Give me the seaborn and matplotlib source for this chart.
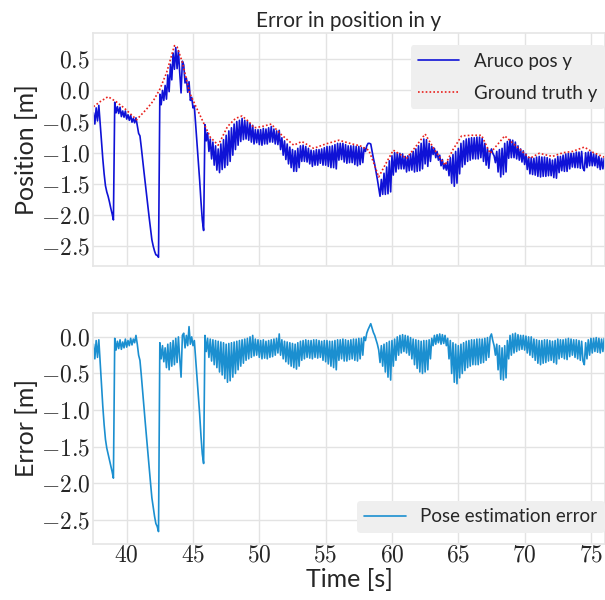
import numpy as np
import pandas as pd
import matplotlib
matplotlib.use("Agg")
import matplotlib.pyplot as plt
from matplotlib.ticker import MultipleLocator, FuncFormatter
import seaborn as sns

# ---- data, samples every 0.1 s from 37.5 s ----
t_start, t_step = 37.5, 0.1

pose_error = [
    -0.10, -0.30, -0.05, -0.28, -0.04, -0.35, -0.65, -0.95, -1.20, -1.40,
    -1.52, -1.60, -1.68, -1.76, -1.84, -1.93, -0.02, -0.18, -0.06, -0.16,
    -0.04, -0.17, -0.07, -0.15, -0.03, -0.14, -0.05, -0.12, -0.02, -0.11,
    -0.03, -0.08, 0.02, -0.10, -0.25, -0.32, -0.52, -0.74, -0.95, -1.17,
    -1.38, -1.59, -1.80, -2.00, -2.20, -2.33, -2.45, -2.55, -2.59, -2.66,
    -0.08, -0.30, -0.12, -0.34, -0.15, -0.42, -0.10, -0.45, -0.08, -0.40,
    -0.05, -0.38, -0.02, -0.35, 0.00, -0.30, -0.55, 0.02, 0.05, -0.15,
    0.02, -0.12, 0.14, -0.10, 0.00, -0.12, -0.05, -0.30, -0.55, -0.80,
    -1.05, -1.35, -1.60, -1.73, 0.02, -0.20, -0.02, -0.28, -0.03, -0.33,
    -0.04, -0.38, -0.05, -0.42, -0.06, -0.48, -0.07, -0.52, -0.08, -0.57,
    -0.10, -0.62, -0.09, -0.60, -0.08, -0.55, -0.07, -0.50, -0.06, -0.45,
    -0.05, -0.40, -0.04, -0.36, -0.03, -0.32, -0.02, -0.30, 0.00, -0.28,
    0.02, -0.26, -0.03, -0.25, -0.04, -0.28, -0.05, -0.30, -0.04, -0.29,
    -0.06, -0.30, -0.05, -0.28, -0.04, -0.27, -0.03, -0.25, -0.02, -0.22,
    0.04, -0.25, -0.04, -0.30, -0.06, -0.34, -0.07, -0.37, -0.08, -0.40,
    -0.09, -0.42, -0.10, -0.44, -0.08, -0.40, -0.06, -0.32, -0.05, -0.30,
    -0.04, -0.28, -0.05, -0.29, -0.05, -0.30, -0.04, -0.28, -0.04, -0.29,
    -0.05, -0.28, -0.06, -0.32, -0.05, -0.34, -0.05, -0.37, -0.06, -0.40,
    -0.06, -0.42, -0.05, -0.45, -0.04, -0.32, -0.04, -0.30, -0.03, -0.33,
    -0.04, -0.33, -0.05, -0.31, -0.04, -0.30, -0.03, -0.32, -0.03, -0.33,
    -0.02, -0.30, -0.02, -0.25, 0.00, -0.05, 0.05, 0.10, 0.14, 0.18,
    0.12, 0.06, 0.02, -0.04, -0.10, -0.18, -0.35, -0.12, -0.40, -0.10,
    -0.48, -0.08, -0.55, -0.06, -0.59, -0.05, -0.40, -0.03, -0.32, 0.00,
    -0.25, 0.02, -0.22, 0.03, -0.20, 0.02, -0.22, 0.01, -0.25, -0.01,
    -0.30, -0.03, -0.38, -0.04, -0.43, -0.05, -0.48, -0.06, -0.50, -0.05,
    -0.48, -0.05, -0.45, -0.04, -0.30, -0.02, -0.12, 0.02, -0.10, 0.03,
    -0.08, 0.04, -0.10, 0.03, -0.09, 0.02, -0.12, -0.02, -0.30, -0.05,
    -0.50, -0.08, -0.62, -0.10, -0.64, -0.12, -0.56, -0.10, -0.50, -0.08,
    -0.46, -0.06, -0.42, -0.05, -0.40, -0.04, -0.38, -0.04, -0.38, -0.03,
    -0.38, -0.03, -0.36, -0.03, -0.35, -0.02, -0.32, -0.01, -0.28, 0.00,
    0.04, -0.05, -0.12, -0.25, -0.10, -0.45, -0.12, -0.58, -0.15, -0.59,
    -0.12, -0.56, -0.05, -0.30, 0.02, -0.25, 0.04, -0.22, 0.05, -0.20,
    0.03, -0.18, 0.02, -0.17, 0.02, -0.18, 0.01, -0.22, 0.00, -0.25,
    0.00, -0.28, -0.03, -0.32, -0.04, -0.36, -0.05, -0.38, -0.05, -0.36,
    -0.04, -0.35, -0.04, -0.33, -0.05, -0.32, -0.06, -0.35, -0.05, -0.37,
    -0.03, -0.30, -0.04, -0.28, -0.04, -0.30, -0.03, -0.31, -0.02, -0.27,
    -0.03, -0.25, -0.04, -0.28, -0.04, -0.30, -0.05, -0.32, -0.06, -0.33,
    -0.38, -0.08, -0.30, -0.04, -0.25, -0.02, -0.22, -0.02, -0.20, -0.01,
    -0.21, -0.02, -0.22, -0.03, -0.20, -0.02, -0.18,
]

aruco_pos_y = [
    -0.36, -0.54, -0.28, -0.49, -0.24, -0.53, -0.82, -1.10, -1.34, -1.53,
    -1.63, -1.70, -1.79, -1.89, -1.98, -2.08, -0.19, -0.36, -0.26, -0.37,
    -0.27, -0.42, -0.33, -0.43, -0.33, -0.46, -0.39, -0.48, -0.40, -0.51,
    -0.45, -0.52, -0.44, -0.56, -0.69, -0.73, -0.91, -1.11, -1.30, -1.49,
    -1.68, -1.86, -2.05, -2.22, -2.40, -2.50, -2.58, -2.64, -2.65, -2.68,
    -0.06, -0.23, 0.00, -0.16, 0.08, -0.14, 0.25, -0.02, 0.42, 0.17,
    0.60, 0.34, 0.69, 0.35, 0.64, 0.28, -0.04, 0.47, 0.41, 0.12,
    0.20, -0.03, 0.14, -0.16, -0.11, -0.28, -0.25, -0.55, -0.85, -1.14,
    -1.44, -1.78, -2.08, -2.25, -0.55, -0.81, -0.68, -0.98, -0.78, -1.10,
    -0.83, -1.20, -0.89, -1.28, -0.94, -1.32, -0.86, -1.27, -0.79, -1.24,
    -0.72, -1.20, -0.65, -1.14, -0.60, -1.04, -0.54, -0.95, -0.50, -0.88,
    -0.48, -0.82, -0.45, -0.79, -0.48, -0.78, -0.50, -0.80, -0.53, -0.83,
    -0.56, -0.86, -0.63, -0.84, -0.63, -0.87, -0.63, -0.88, -0.61, -0.86,
    -0.62, -0.86, -0.60, -0.83, -0.58, -0.83, -0.62, -0.86, -0.65, -0.87,
    -0.64, -0.95, -0.76, -1.04, -0.81, -1.11, -0.86, -1.18, -0.91, -1.24,
    -0.95, -1.30, -0.97, -1.30, -0.93, -1.24, -0.89, -1.14, -0.88, -1.14,
    -0.90, -1.15, -0.93, -1.18, -0.96, -1.22, -0.97, -1.20, -0.95, -1.20,
    -0.95, -1.17, -0.94, -1.20, -0.92, -1.20, -0.90, -1.22, -0.90, -1.24,
    -0.89, -1.24, -0.87, -1.26, -0.85, -1.12, -0.85, -1.11, -0.85, -1.15,
    -0.87, -1.17, -0.89, -1.16, -0.89, -1.16, -0.89, -1.19, -0.90, -1.21,
    -0.90, -1.19, -0.92, -1.16, -0.92, -0.98, -0.89, -0.85, -0.85, -0.86,
    -0.98, -1.09, -1.19, -1.31, -1.43, -1.57, -1.70, -1.43, -1.67, -1.33,
    -1.67, -1.23, -1.66, -1.13, -1.63, -1.05, -1.36, -1.00, -1.31, -1.00,
    -1.26, -1.01, -1.26, -1.02, -1.26, -1.06, -1.31, -1.05, -1.29, -1.02,
    -1.28, -0.98, -1.31, -0.94, -1.30, -0.89, -1.29, -0.85, -1.26, -0.78,
    -1.18, -0.79, -1.22, -0.85, -1.14, -0.90, -1.03, -0.93, -1.08, -0.98,
    -1.12, -1.04, -1.21, -1.11, -1.26, -1.18, -1.28, -1.14, -1.37, -1.08,
    -1.49, -1.03, -1.54, -0.98, -1.49, -0.93, -1.34, -0.85, -1.23, -0.81,
    -1.19, -0.78, -1.14, -0.77, -1.12, -0.76, -1.10, -0.76, -1.10, -0.75,
    -1.10, -0.75, -1.08, -0.77, -1.14, -0.85, -1.20, -0.93, -1.25, -1.01,
    -0.94, -1.01, -1.05, -1.16, -0.98, -1.31, -0.95, -1.39, -0.93, -1.35,
    -0.85, -1.31, -0.82, -1.09, -0.79, -1.08, -0.80, -1.08, -0.83, -1.10,
    -0.89, -1.12, -0.94, -1.15, -0.97, -1.19, -1.02, -1.27, -1.07, -1.34,
    -1.08, -1.35, -1.09, -1.36, -1.07, -1.38, -1.06, -1.39, -1.07, -1.38,
    -1.07, -1.38, -1.08, -1.37, -1.10, -1.37, -1.12, -1.40, -1.10, -1.41,
    -1.06, -1.32, -1.06, -1.29, -1.04, -1.30, -1.02, -1.30, -1.01, -1.26,
    -1.01, -1.23, -1.01, -1.24, -0.99, -1.24, -0.99, -1.25, -0.98, -1.25,
    -1.29, -1.00, -1.24, -0.99, -1.21, -0.99, -1.21, -1.02, -1.21, -1.03,
    -1.24, -1.06, -1.27, -1.09, -1.26, -1.09, -1.26,
]

gt_time = [
    37.5, 38.0, 38.6, 39.2, 39.8, 40.3, 40.75, 41.5, 42.0, 42.5,
    43.0, 43.3, 43.6, 43.8, 44.2, 44.75, 45.2, 45.75, 46.3, 46.9,
    47.6, 48.2, 48.7, 49.2, 49.6, 50.2, 50.9, 51.6, 52.6, 53.2,
    54.1, 55.0, 56.0, 57.0, 57.6, 58.25, 58.6, 59.0, 59.6, 60.1,
    61.1, 61.8, 62.5, 63.2, 64.0, 64.6, 65.25, 66.0, 66.75, 67.4,
    68.5, 69.5, 70.4, 71.1, 72.1, 72.9, 73.6, 74.5, 75.2, 76.1,
]
ground_truth_y = [
    -0.26, -0.18, -0.10, -0.18, -0.28, -0.38, -0.47, -0.30, -0.17, 0.02,
    0.28, 0.50, 0.72, 0.70, 0.45, -0.04, -0.25, -0.50, -0.75, -0.88,
    -0.58, -0.45, -0.41, -0.50, -0.60, -0.58, -0.54, -0.70, -0.88, -0.82,
    -0.93, -0.86, -0.80, -0.86, -0.89, -0.96, -1.15, -1.39, -1.15, -0.96,
    -1.09, -0.90, -0.70, -0.95, -1.20, -0.95, -0.73, -0.72, -0.72, -1.01,
    -0.73, -0.92, -1.09, -1.01, -1.06, -1.00, -0.98, -0.91, -1.00, -1.08,
]

title = "Error in position in y"
labels = ["Aruco pos y", "Ground truth y", "Pose estimation error"]

# ---- tables ----
t = t_start + t_step * np.arange(len(pose_error))
df = pd.DataFrame({"t": t, "err": pose_error, "aruco": aruco_pos_y})
gt = pd.DataFrame({"t": gt_time, "gt": ground_truth_y})

# ---- style ----
sns.set_theme(style="whitegrid")
plt.rcParams["font.family"] = ["Lato", "DejaVu Sans"]
plt.rcParams["mathtext.fontset"] = "cm"
plt.rcParams["axes.edgecolor"] = "#e6e6e6"
plt.rcParams["grid.color"] = "#e3e3e3"

fig = plt.figure(figsize=(6.05, 6.0), dpi=100)
ax1 = fig.add_axes([0.1537, 0.5567, 0.8463, 0.3875])
ax2 = fig.add_axes([0.1537, 0.0933, 0.8463, 0.3855], sharex=ax1)

sns.lineplot(data=df, x="t", y="aruco", ax=ax1, color="#0f12d6", lw=1.2,
             label=labels[0], estimator=None, sort=False)
sns.lineplot(data=gt, x="t", y="gt", ax=ax1, color="#e8201c", lw=1.2,
             ls=(0, (1, 1.3)), label=labels[1], estimator=None, sort=False)
sns.lineplot(data=df, x="t", y="err", ax=ax2, color="#1b8fd0", lw=1.2,
             label=labels[2], estimator=None, sort=False)

tickfmt_y = FuncFormatter(lambda v, p: f"${v:.1f}$")
tickfmt_x = FuncFormatter(lambda v, p: f"${v:.0f}$")

for ax in (ax1, ax2):
    ax.xaxis.set_major_locator(MultipleLocator(5))
    ax.yaxis.set_major_locator(MultipleLocator(0.5))
    ax.yaxis.set_major_formatter(tickfmt_y)
    ax.xaxis.set_major_formatter(tickfmt_x)
    ax.tick_params(axis="both", labelsize=17, length=0)
    ax.tick_params(axis="y", pad=2)
    ax.tick_params(axis="x", pad=0)

ax1.set_xlim(37.46, 76.06)
ax1.set_ylim(-2.82, 0.915)
ax2.set_ylim(-2.83, 0.33)

ax1.tick_params(axis="x", labelbottom=False)
ax1.set_xlabel("")
ax1.set_ylabel("Position [m]", fontsize=18, labelpad=2)
ax2.set_ylabel("Error [m]", fontsize=18, labelpad=2)
ax2.set_xlabel("Time [s]", fontsize=18, labelpad=2)
ax1.set_title(title, fontsize=15, pad=5)

leg_kw = dict(borderaxespad=0, fontsize=13.5, facecolor="#efefef", edgecolor="none",
              framealpha=1, handlelength=2.2, handletextpad=0.8)
ax1.legend(loc="upper right", bbox_to_anchor=(1.0, 0.95), labelspacing=0.8, **leg_kw)
ax2.legend(loc="lower right", bbox_to_anchor=(1.0, 0.048), **leg_kw)

fig.savefig("out.png", dpi=100)
